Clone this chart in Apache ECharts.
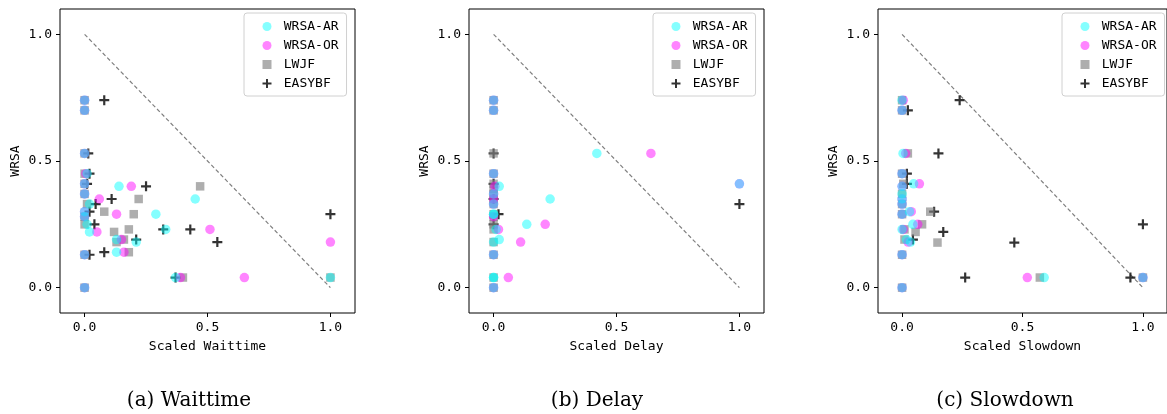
<!DOCTYPE html>
<html>
<head>
<meta charset="utf-8">
<script src="https://cdn.jsdelivr.net/npm/echarts@6/dist/echarts.min.js"></script>
<style>html,body{margin:0;padding:0;background:#fff;}#c{width:1167px;height:414px;}</style>
</head>
<body>
<div id="c"></div>
<script>
// ---- data ----
const seriesNames = ['WRSA-AR', 'WRSA-OR', 'LWJF', 'EASYBF'];
const panelTitles = ['(a) Waittime', '(b) Delay', '(c) Slowdown'];
const xLabels = ['Scaled Waittime', 'Scaled Delay', 'Scaled Slowdown'];
const yLabel = 'WRSA';
const tickValues = [0, 0.5, 1.0];
const diagonal = [[0, 1], [1, 0]];

const waitAR = [[0,0.74],[0,0.70],[0,0.53],[0.01,0.45],[0,0.41],[0,0.37],[0.14,0.40],[0.02,0.33],[0,0.30],[0,0.28],[0.01,0.25],[0.02,0.22],[0.45,0.35],[0.29,0.29],[0.33,0.23],[0.13,0.19],[0.21,0.18],[0.13,0.14],[0,0.13],[0.37,0.04],[1.0,0.04],[0,0.0]];
const waitOR = [[0,0.74],[0,0.70],[0,0.53],[0.005,0.45],[0,0.41],[0,0.37],[0.19,0.40],[0.06,0.35],[0,0.30],[0.13,0.29],[0,0.28],[0.05,0.22],[0.51,0.23],[0.15,0.19],[0.16,0.14],[0,0.13],[0.39,0.04],[0.65,0.04],[1.0,0.18],[0,0.0]];
const waitLWJF = [[0,0.74],[0,0.70],[0,0.53],[0,0.45],[0,0.41],[0,0.37],[0.47,0.40],[0.22,0.35],[0.01,0.33],[0.08,0.30],[0.20,0.29],[0,0.28],[0,0.25],[0.12,0.22],[0.18,0.23],[0.16,0.19],[0.13,0.18],[0.18,0.14],[0,0.13],[0.40,0.04],[1.0,0.04],[0,0.0]];
const waitEASY = [[0.08,0.74],[0.015,0.53],[0.02,0.45],[0.01,0.41],[0.25,0.40],[0.11,0.35],[0.045,0.33],[0.02,0.30],[1.0,0.29],[0.04,0.25],[0.32,0.23],[0.43,0.23],[0.21,0.19],[0.54,0.18],[0.08,0.14],[0.02,0.13],[0.37,0.04]];

const delayAR = [[0,0.74],[0,0.70],[0,0.45],[0.023,0.40],[0,0.37],[0,0.33],[0,0.29],[0,0.29],[0.01,0.23],[0.023,0.19],[0,0.18],[0,0.13],[0,0.04],[0,0.04],[0,0.0],[0.23,0.35],[0.135,0.25],[0.42,0.53],[1.0,0.41]];
const delayOR = [[0,0.74],[0,0.70],[0,0.45],[0.005,0.40],[0,0.37],[0,0.35],[0,0.33],[0,0.28],[0.02,0.23],[0,0.13],[0,0.0],[0.06,0.04],[0.21,0.25],[0.11,0.18],[0.64,0.53],[1.0,0.41]];
const delayLWJF = [[0,0.74],[0,0.70],[0,0.53],[0,0.45],[0,0.41],[0,0.39],[0,0.37],[0,0.35],[0,0.33],[0,0.29],[0,0.28],[0,0.25],[0,0.23],[0,0.18],[0,0.13],[0,0.04],[0,0.0]];
const delayEASY = [[0,0.53],[0,0.41],[0,0.35],[0.02,0.29],[0,0.25],[1.0,0.33]];

const slowAR = [[0,0.74],[0,0.70],[0.004,0.53],[0,0.45],[0,0.40],[0.048,0.41],[0,0.37],[0,0.35],[0,0.33],[0,0.29],[0.031,0.30],[0,0.23],[0.045,0.25],[0.018,0.19],[0.035,0.18],[0,0.13],[0,0.0],[0.59,0.04],[1.0,0.04]];
const slowOR = [[0.005,0.74],[0,0.70],[0.015,0.53],[0,0.45],[0,0.40],[0.072,0.41],[0,0.35],[0,0.33],[0.038,0.30],[0,0.29],[0.005,0.23],[0.065,0.25],[0.025,0.18],[0,0.13],[0,0.0],[0.52,0.04],[1.0,0.04]];
const slowLWJF = [[0,0.74],[0,0.70],[0.024,0.53],[0,0.45],[0.005,0.41],[0,0.37],[0,0.33],[0.117,0.30],[0,0.29],[0.083,0.25],[0.056,0.22],[0.01,0.23],[0.147,0.178],[0.01,0.19],[0,0.13],[0,0.0],[0.572,0.04],[1.0,0.04]];
const slowEASY = [[0.239,0.74],[0.024,0.70],[0.151,0.53],[0.02,0.45],[0.02,0.41],[0.133,0.30],[0.171,0.22],[0.045,0.19],[0.466,0.178],[0.262,0.04],[0.948,0.04],[1.0,0.25]];

const panels = [
  {AR: waitAR, OR: waitOR, LWJF: waitLWJF, EASY: waitEASY},
  {AR: delayAR, OR: delayOR, LWJF: delayLWJF, EASY: delayEASY},
  {AR: slowAR, OR: slowOR, LWJF: slowLWJF, EASY: slowEASY}
];

// ---- styling ----
const MONO = 'DejaVu Sans Mono';
const PLUS = 'path://M3.9,0H6.1V3.9H10V6.1H6.1V10H3.9V6.1H0V3.9H3.9Z';
const SQUARE = 'path://M0,0H10V10H0Z';
const colAR = 'rgba(0,255,255,0.6)';
const colOR = 'rgba(255,0,255,0.6)';
const colLW = 'rgba(128,128,128,0.8)';
const colEB = '#000000';

const gridLefts = [60, 469, 878];
const gridTop = 9, gridW = 295, gridH = 304;
const captionX = [184, 592, 1000];

const grids = [], xAxes = [], yAxes = [], series = [], legends = [], titles = [];
gridLefts.forEach((gl, i) => {
  grids.push({left: gl, top: gridTop, width: gridW, height: gridH, show: true,
    borderColor: '#000', borderWidth: 1, backgroundColor: 'transparent'});
  xAxes.push({type: 'value', gridIndex: i, min: -0.1, max: 1.1, position: 'bottom',
    name: xLabels[i], nameLocation: 'middle', nameGap: 27,
    nameTextStyle: {fontFamily: MONO, fontSize: 13, color: '#000'},
    axisLine: {show: false, onZero: false},
    axisTick: {show: true, inside: false, length: 4, customValues: tickValues, lineStyle: {color: '#000', width: 1}},
    axisLabel: {show: true, customValues: tickValues, margin: 8, fontFamily: MONO, fontSize: 13, color: '#000',
      formatter: v => v.toFixed(1)},
    splitLine: {show: false}});
  yAxes.push({type: 'value', gridIndex: i, min: -0.1, max: 1.1, position: 'left',
    name: yLabel, nameLocation: 'middle', nameGap: 38, nameRotate: 90,
    nameTextStyle: {fontFamily: MONO, fontSize: 13, color: '#000'},
    axisLine: {show: false, onZero: false},
    axisTick: {show: true, inside: false, length: 4, customValues: tickValues, lineStyle: {color: '#000', width: 1}},
    axisLabel: {show: true, customValues: tickValues, margin: 8, fontFamily: MONO, fontSize: 13, color: '#000',
      formatter: v => v.toFixed(1)},
    splitLine: {show: false}});

  const p = panels[i];
  series.push({type: 'line', name: 'diag', xAxisIndex: i, yAxisIndex: i, data: diagonal,
    symbol: 'none', silent: true, z: 1,
    lineStyle: {color: '#808080', width: 1.2, type: [4, 2.5]}});
  series.push({type: 'scatter', name: 'EASYBF', xAxisIndex: i, yAxisIndex: i, data: p.EASY,
    symbol: PLUS, symbolSize: 10, itemStyle: {color: colEB}, z: 2});
  series.push({type: 'scatter', name: 'LWJF', xAxisIndex: i, yAxisIndex: i, data: p.LWJF,
    symbol: 'rect', symbolSize: 8.5, itemStyle: {color: colLW}, z: 2});
  series.push({type: 'scatter', name: 'WRSA-OR', xAxisIndex: i, yAxisIndex: i, data: p.OR,
    symbol: 'circle', symbolSize: 9.5, itemStyle: {color: colOR}, z: 2});
  series.push({type: 'scatter', name: 'WRSA-AR', xAxisIndex: i, yAxisIndex: i, data: p.AR,
    symbol: 'circle', symbolSize: 9.5, itemStyle: {color: colAR}, z: 2});

  legends.push({left: gl + 184, top: 13, orient: 'vertical',
    data: [{name: 'WRSA-AR', icon: 'circle'}, {name: 'WRSA-OR', icon: 'circle'},
           {name: 'LWJF', icon: SQUARE}, {name: 'EASYBF', icon: PLUS}],
    symbolKeepAspect: true,
    itemWidth: 23.5, itemHeight: 9, itemGap: 4, selectedMode: false,
    padding: [6, 8, 5, 18.5],
    backgroundColor: 'rgba(255,255,255,0.8)', borderColor: '#d0d0d0', borderWidth: 1, borderRadius: 3,
    textStyle: {fontFamily: MONO, fontSize: 13, color: '#000', lineHeight: 15}});

  titles.push({text: panelTitles[i], left: captionX[i], top: 386, textAlign: 'center',
    textStyle: {fontFamily: 'DejaVu Serif', fontSize: 20, fontWeight: 'normal', color: '#000'}});
});

const chart = echarts.init(document.getElementById('c'), null, {renderer: 'canvas'});
chart.setOption({
  animation: false,
  backgroundColor: '#fff',
  title: titles,
  grid: grids, xAxis: xAxes, yAxis: yAxes,
  legend: legends,
  series: series
});
</script>
</body>
</html>
